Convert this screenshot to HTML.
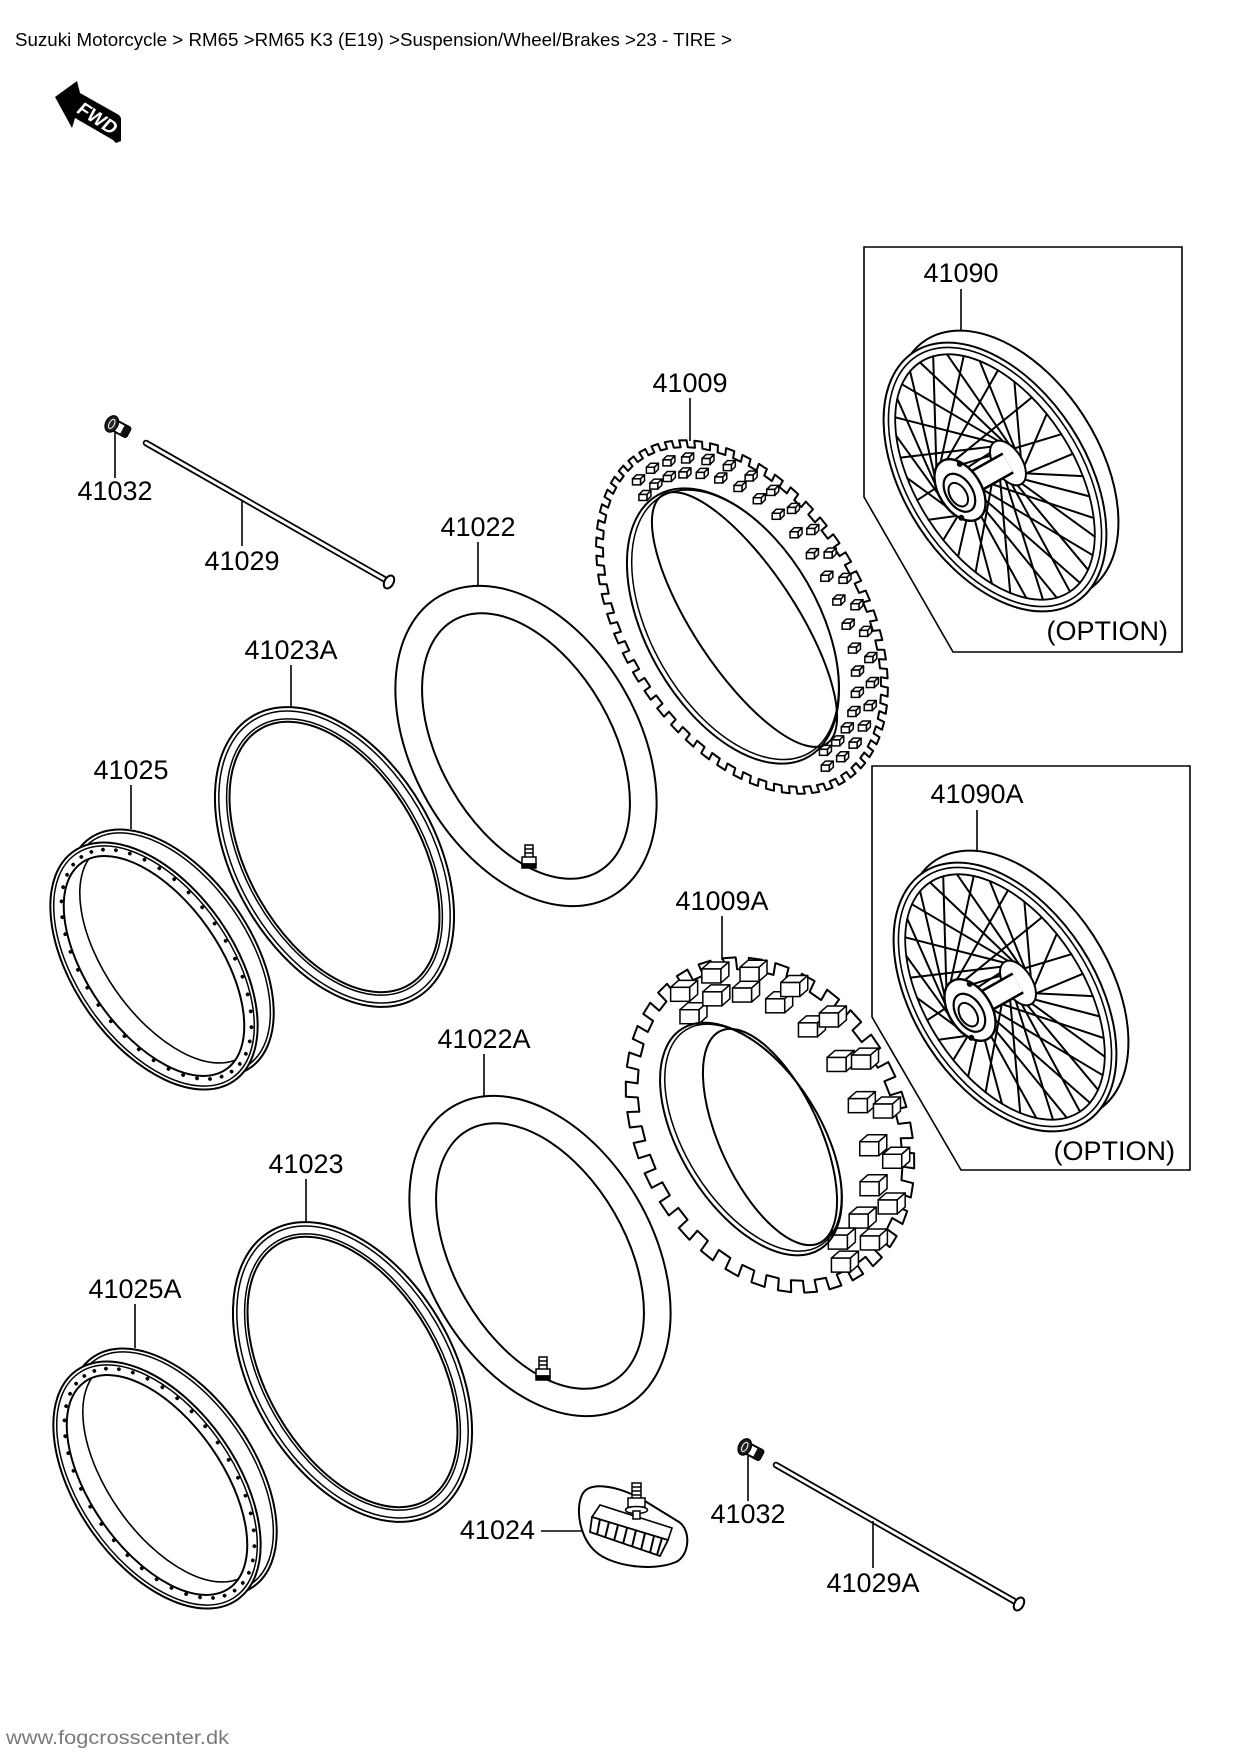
<!DOCTYPE html>
<html><head><meta charset="utf-8">
<style>
html,body{margin:0;padding:0;background:#fff;}
svg{display:block;}
text{font-family:"Liberation Sans",Arial,sans-serif;}
</style></head>
<body>
<svg id="s" xmlns="http://www.w3.org/2000/svg" width="1240" height="1755" viewBox="0 0 1240 1755">
<defs>
<clipPath id="rimclip"><ellipse rx="66" ry="126"/></clipPath>
</defs>
<rect width="1240" height="1755" fill="#fff"/>

<!-- header -->
<text x="15" y="46" font-size="18" textLength="717" lengthAdjust="spacingAndGlyphs" fill="#000">Suzuki Motorcycle &gt; RM65 &gt;RM65 K3 (E19) &gt;Suspension/Wheel/Brakes &gt;23 - TIRE &gt;</text>

<!-- FWD arrow -->
<polygon points="55,97 77,81 80,93 119,115 121,118 121,141 116,143 113,140 75,118 72,128" fill="#000"/>
<text x="0" y="7" transform="translate(98,118) rotate(33) skewX(-8)" font-size="19" font-weight="bold" fill="#fff" text-anchor="middle">FWD</text>

<!-- option boxes -->
<polygon points="864,247 1182,247 1182,652 953,652 864,497" fill="none" stroke="#000" stroke-width="1.6"/>
<polygon points="872,766 1190,766 1190,1170 961,1170 872,1017" fill="none" stroke="#000" stroke-width="1.6"/>

<!-- wheel 41090 -->
<g id="wheel1">
 <g transform="translate(995,477) rotate(-33)">
  <ellipse cx="16.6" cy="-3.5" rx="91" ry="149" fill="#fff" stroke="#000" stroke-width="2"/>
  <ellipse rx="91" ry="149" fill="#fff" stroke="#000" stroke-width="2"/>
  <ellipse rx="86" ry="144" fill="none" stroke="#000" stroke-width="1.6"/>
  <ellipse rx="79" ry="137" fill="none" stroke="#000" stroke-width="1.8"/>
 </g>
 <g id="spk1" stroke="#000" stroke-width="2" stroke-linecap="round"></g>
 <g transform="translate(1008,463) rotate(-33)"><ellipse rx="14" ry="25" fill="#fff" stroke="#000" stroke-width="2"/></g>
 <line x1="1008" y1="463" x2="960" y2="490" stroke="#000" stroke-width="24"/>
 <line x1="1008" y1="463" x2="960" y2="490" stroke="#fff" stroke-width="19"/>
 <g transform="translate(960,490) rotate(-33)">
  <ellipse rx="21" ry="34" fill="#fff" stroke="#000" stroke-width="2.4"/>
  <ellipse cx="-2" cy="2" rx="13" ry="21" fill="#fff" stroke="#000" stroke-width="2.2"/>
  <ellipse cx="-4" cy="3" rx="8" ry="13" fill="#fff" stroke="#000" stroke-width="2"/>
  <circle cx="14" cy="-22" r="3" fill="#000"/>
  <circle cx="-14" cy="24" r="3" fill="#000"/>
 </g>
</g>
<use href="#wheel1" transform="translate(10,520)"/>

<!-- tire 41009 -->
<g id="t1o"></g>
<g id="t1k"></g>
<g transform="translate(733,626) rotate(-30)" fill="none" stroke="#000">
 <ellipse rx="86" ry="151" stroke-width="2"/>
 <ellipse cx="2.5" rx="83.5" ry="148" stroke-width="1.5"/>
</g>
<g transform="translate(744.5,619.5) rotate(-33.5)"><ellipse rx="51" ry="149" fill="none" stroke="#000" stroke-width="2"/></g>

<!-- tire 41009A -->
<g id="t2o"></g>
<g id="t2k"></g>
<g transform="translate(751,1139) rotate(-32)" fill="none" stroke="#000">
 <ellipse rx="70" ry="130" stroke-width="2"/>
 <ellipse cx="2.5" rx="67.5" ry="127" stroke-width="1.5"/>
</g>
<g transform="translate(770,1137) rotate(-25)"><ellipse rx="50" ry="117" fill="none" stroke="#000" stroke-width="2"/></g>

<!-- tube 41022 -->
<g transform="translate(526,746) rotate(-30)" fill="none" stroke="#000" stroke-width="2">
 <ellipse rx="113" ry="173"/>
 <ellipse rx="86" ry="145"/>
</g>
<g id="valve1" transform="translate(529,858)" stroke="#000" stroke-width="1.5" fill="#fff">
 <rect x="-4" y="-13" width="8" height="13"/>
 <line x1="-4" y1="-9" x2="4" y2="-9"/>
 <line x1="-4" y1="-5" x2="4" y2="-5"/>
 <rect x="-7" y="-1" width="14" height="7"/>
 <rect x="-7" y="6" width="14" height="4" fill="#000"/>
</g>
<!-- tube 41022A -->
<g transform="translate(540,1256) rotate(-30)" fill="none" stroke="#000" stroke-width="2">
 <ellipse rx="113" ry="173"/>
 <ellipse rx="86" ry="145"/>
</g>
<use href="#valve1" transform="translate(14,512)"/>

<!-- ring 41023A -->
<g transform="translate(334.5,857) rotate(-30)" fill="none" stroke="#000">
 <ellipse rx="101" ry="163" stroke-width="2"/>
 <ellipse rx="97" ry="159" stroke-width="1.5"/>
 <ellipse rx="89" ry="151" stroke-width="1.5"/>
 <ellipse rx="86" ry="148" stroke-width="2"/>
</g>
<!-- ring 41023 -->
<g transform="translate(352.5,1372) rotate(-30)" fill="none" stroke="#000">
 <ellipse rx="101" ry="163" stroke-width="2"/>
 <ellipse rx="97" ry="159" stroke-width="1.5"/>
 <ellipse rx="89" ry="151" stroke-width="1.5"/>
 <ellipse rx="86" ry="148" stroke-width="2"/>
</g>

<!-- rim 41025 -->
<g id="rim1" transform="translate(154,966) rotate(-35)">
 <ellipse cx="20.6" cy="-1.4" rx="80" ry="140" fill="#fff" stroke="#000" stroke-width="2"/>
 <ellipse cx="20.6" cy="-1.4" rx="76.5" ry="136.5" fill="none" stroke="#000" stroke-width="1.5"/>
 <ellipse rx="80" ry="140" fill="#fff" stroke="#000" stroke-width="2"/>
 <ellipse rx="76.5" ry="136.5" fill="none" stroke="#000" stroke-width="1.5"/>
 <ellipse rx="66" ry="126" fill="none" stroke="#000" stroke-width="2"/>
 <ellipse cx="20.6" cy="-1.4" rx="66" ry="126" fill="none" stroke="#000" stroke-width="1.6" clip-path="url(#rimclip)"/>
 <g id="dots1"></g>
</g>
<use href="#rim1" transform="translate(3,519)"/>

<!-- rim band 41024 -->
<path d="M582,1495 C588,1482 612,1484 640,1498 L679,1522 C691,1530 690,1555 676,1562 C652,1572 612,1566 596,1552 C580,1538 575,1510 582,1495 Z" fill="#fff" stroke="#000" stroke-width="2"/>
<polygon points="592,1517 600,1505 672,1528 668,1540" fill="#fff" stroke="#000" stroke-width="1.6"/>
<polygon points="592,1517 668,1540 660,1556 590,1532" fill="#fff" stroke="#000" stroke-width="1.8"/>
<g stroke="#000" stroke-width="2">
 <line x1="600" y1="1519" x2="597" y2="1535"/>
 <line x1="609" y1="1522" x2="605" y2="1538"/>
 <line x1="618" y1="1525" x2="614" y2="1541"/>
 <line x1="627" y1="1528" x2="623" y2="1544"/>
 <line x1="636" y1="1530" x2="632" y2="1547"/>
 <line x1="645" y1="1533" x2="641" y2="1550"/>
 <line x1="654" y1="1536" x2="650" y2="1553"/>
 <line x1="662" y1="1538" x2="657" y2="1555"/>
</g>
<g stroke="#000" stroke-width="1.5" fill="#fff">
 <rect x="632" y="1483" width="9" height="16"/>
 <line x1="632" y1="1487" x2="641" y2="1487"/>
 <line x1="632" y1="1491" x2="641" y2="1491"/>
 <line x1="632" y1="1495" x2="641" y2="1495"/>
 <rect x="628" y="1498" width="17" height="9"/>
 <ellipse cx="636.5" cy="1510" rx="11" ry="3.5"/>
 <rect x="633" y="1511" width="7" height="8"/>
</g>

<!-- small parts: valve cap and spoke -->
<g id="cap1" transform="translate(110,423) rotate(28)">
 <rect x="2" y="-5.5" width="19" height="11" rx="2" fill="#fff" stroke="#000" stroke-width="2"/>
 <rect x="14" y="-5.5" width="7" height="11" fill="#111"/>
 <ellipse cx="2" cy="0" rx="6" ry="8.5" fill="#222" stroke="#000" stroke-width="1.5"/>
 <ellipse cx="2" cy="0" rx="2.5" ry="5" fill="none" stroke="#fff" stroke-width="1"/>
</g>
<use href="#cap1" transform="translate(633,1023)"/>
<g id="rod1">
 <line x1="146" y1="443" x2="384" y2="579" stroke="#000" stroke-width="6.5" stroke-linecap="round"/>
 <line x1="146" y1="443" x2="384" y2="579" stroke="#fff" stroke-width="3" stroke-linecap="round"/>
 <ellipse transform="translate(389,582) rotate(30)" rx="4.5" ry="7" fill="#fff" stroke="#000" stroke-width="2"/>
</g>
<use href="#rod1" transform="translate(630,1022)"/>

<!-- leaders -->
<g stroke="#000" stroke-width="1.6">
 <line x1="115" y1="433" x2="115" y2="478"/>
 <line x1="242" y1="500" x2="242" y2="546"/>
 <line x1="478" y1="542" x2="478" y2="586"/>
 <line x1="291" y1="665" x2="291" y2="708"/>
 <line x1="131" y1="785" x2="131" y2="829"/>
 <line x1="690" y1="398" x2="690" y2="441"/>
 <line x1="961" y1="289" x2="961" y2="331"/>
 <line x1="977" y1="810" x2="977" y2="851"/>
 <line x1="722" y1="916" x2="722" y2="960"/>
 <line x1="484" y1="1054" x2="484" y2="1096"/>
 <line x1="306" y1="1179" x2="306" y2="1222"/>
 <line x1="135" y1="1304" x2="135" y2="1348"/>
 <line x1="541" y1="1531" x2="583" y2="1531"/>
 <line x1="748" y1="1456" x2="748" y2="1501"/>
 <line x1="873" y1="1521" x2="873" y2="1568"/>
</g>

<!-- labels -->
<g font-size="27" fill="#000" text-anchor="middle">
 <text x="115" y="500">41032</text>
 <text x="242" y="570">41029</text>
 <text x="478" y="536">41022</text>
 <text x="291" y="659">41023A</text>
 <text x="131" y="779">41025</text>
 <text x="690" y="392">41009</text>
 <text x="961" y="282">41090</text>
 <text x="977" y="803">41090A</text>
 <text x="722" y="910">41009A</text>
 <text x="484" y="1048">41022A</text>
 <text x="306" y="1173">41023</text>
 <text x="135" y="1298">41025A</text>
 <text x="535" y="1539" text-anchor="end">41024</text>
 <text x="748" y="1523">41032</text>
 <text x="873" y="1592">41029A</text>
 <text x="1168" y="640" text-anchor="end">(OPTION)</text>
 <text x="1175" y="1160" text-anchor="end">(OPTION)</text>
</g>

<!-- footer -->
<text x="6" y="1744" font-size="19" textLength="223" lengthAdjust="spacingAndGlyphs" fill="#7a7a7a">www.fogcrosscenter.dk</text>
</svg>
<script>
(function(){
const NS="http://www.w3.org/2000/svg";
function E(tag,at,par){const e=document.createElementNS(NS,tag);for(const k in at)e.setAttribute(k,at[k]);par.appendChild(e);return e;}
function P(c,t,d){d=d||0;const a=c.a+d,b=c.b+d;const x1=b*Math.cos(t),y1=a*Math.sin(t);const p=-c.th*Math.PI/180;return [c.cx+x1*Math.cos(p)-y1*Math.sin(p),c.cy+x1*Math.sin(p)+y1*Math.cos(p)];}
function F(p){return p[0].toFixed(1)+","+p[1].toFixed(1);}
function outline(par,c,d,N){let s="";for(let i=0;i<N;i++){const t0=2*Math.PI*i/N,t1=t0+Math.PI/N,t2=t0+2*Math.PI/N;s+=(i?"L":"M")+F(P(c,t0))+"L"+F(P(c,t1))+"L"+F(P(c,t1,-d))+"L"+F(P(c,t2,-d));}s+="Z";E("path",{d:s,fill:"#fff",stroke:"#000","stroke-width":2,"stroke-linejoin":"round"},par);}
function cube(par,x,y,w,h,ox,oy){
 const sw=1.5;
 const L=x-w/2,R=x+w/2,T=y-h/2,B=y+h/2;
 E("polygon",{points:L+","+T+" "+R+","+T+" "+(R+ox)+","+(T+oy)+" "+(L+ox)+","+(T+oy),fill:"#fff",stroke:"#000","stroke-width":sw,"stroke-linejoin":"round"},par);
 E("polygon",{points:R+","+T+" "+(R+ox)+","+(T+oy)+" "+(R+ox)+","+(B+oy)+" "+R+","+B,fill:"#fff",stroke:"#000","stroke-width":sw,"stroke-linejoin":"round"},par);
 E("rect",{x:L,y:T,width:w,height:h,fill:"#fff",stroke:"#000","stroke-width":sw},par);
}
const t1o=document.getElementById("t1o"),t1k=document.getElementById("t1k");
outline(t1o,{cx:742,cy:617,a:194,b:122,th:32},7,56);
const k1={cx:742,cy:617,a:166,b:99,th:32};
for(let t=-1.8;t<=1.76;t+=0.17){for(const d of [-8,7]){const p=P(k1,t+(d>0?0.06:0),d);cube(t1k,p[0],p[1],8,6,4,-4);}}
const t2o=document.getElementById("t2o"),t2k=document.getElementById("t2k");
outline(t2o,{cx:770,cy:1125,a:176,b:134,th:28},12,34);
const k2={cx:772,cy:1122,a:150,b:98,th:28};
for(let t=-1.85;t<=1.86;t+=0.34){for(const d of [-13,9]){const p=P(k2,t+(d>0?0.08:0),d);cube(t2k,p[0],p[1],19,14,8,-7);}}
const spk=document.getElementById("spk1");
const rim={cx:995,cy:477,a:137,b:79,th:33},f1={cx:960,cy:490,a:32,b:20,th:33},f2={cx:1008,cy:463,a:24,b:13,th:33};
for(let i=0;i<18;i++){const t=2*Math.PI*i/18+0.17;const a=P(f2,t),b=P(rim,t-0.7);E("line",{x1:a[0].toFixed(1),y1:a[1].toFixed(1),x2:b[0].toFixed(1),y2:b[1].toFixed(1)},spk);}
for(let i=0;i<18;i++){const t=2*Math.PI*i/18;const a=P(f1,t),b=P(rim,t+0.7);E("line",{x1:a[0].toFixed(1),y1:a[1].toFixed(1),x2:b[0].toFixed(1),y2:b[1].toFixed(1)},spk);}
const dots=document.getElementById("dots1");
for(let i=0;i<40;i++){const t=2*Math.PI*i/40;E("circle",{cx:(3+71*Math.cos(t)).toFixed(1),cy:(131*Math.sin(t)).toFixed(1),r:1.9,fill:"#000"},dots);}
})();
</script>
</body></html>
